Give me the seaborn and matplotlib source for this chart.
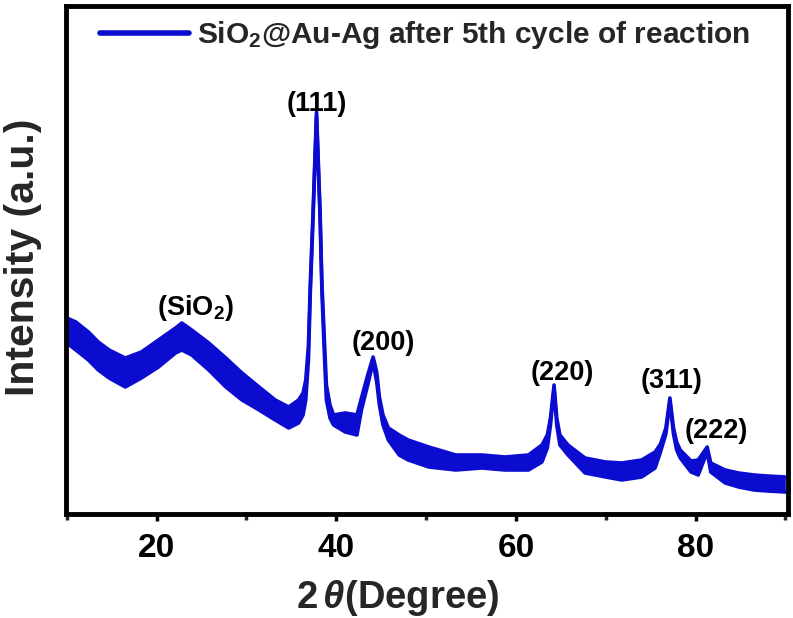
# XRD pattern of SiO2@Au-Ag after the 5th reaction cycle

import matplotlib
matplotlib.use("Agg")
import numpy as np
import matplotlib.pyplot as plt
import seaborn as sns

# --- Data (2theta in degrees, intensity in a.u.) ---
# the trace is a noisy band, so keep its upper and lower edge
two_theta = [10.0, 11.0, 12.4, 13.5, 14.7, 16.5, 18.3, 20.2, 22.1, 22.8, 23.9, 25.8,
             27.7, 29.5, 31.4, 33.2, 34.7, 35.8, 36.3, 36.6, 36.9, 37.1, 37.4, 37.8,
             38.2, 38.4, 38.7, 38.9, 39.3, 39.7, 41.0, 42.3, 42.8, 43.5, 44.1, 44.5,
             44.8, 45.2, 45.8, 47.0, 48.0, 50.3, 53.3, 56.2, 58.8, 61.4, 62.9, 63.5,
             63.85, 64.25, 64.55, 64.9, 65.8, 67.7, 70.0, 71.8, 74.0, 75.5, 76.1, 76.7,
             77.15, 77.55, 77.9, 78.3, 79.5, 80.3, 81.3, 81.7, 83.3, 84.8, 86.5, 88.0,
             90.0]
band_upper = [192, 188, 178, 168, 160, 152, 158, 170, 182, 187, 180, 167,
              152, 137, 123, 110, 103, 110, 117, 130, 165, 225, 295, 398,
              297, 227, 165, 125, 105, 95, 97, 95, 112, 135, 153, 138,
              113, 95, 82, 75, 70, 63, 55, 55, 53, 55, 65, 75,
              92, 125, 92, 75, 65, 52, 48, 47, 50, 58, 66, 82,
              112, 82, 68, 60, 49, 50, 63, 47, 40, 37, 35, 34,
              33]
band_lower = [167, 160, 150, 140, 132, 123, 132, 143, 157, 160, 155, 140,
              123, 110, 100, 90, 82, 87, 95, 110, 150, 215, 288, 394,
              290, 218, 150, 110, 92, 85, 78, 75, 100, 125, 148, 128,
              105, 85, 70, 55, 50, 43, 40, 42, 40, 40, 48, 62,
              85, 121, 85, 65, 55, 37, 33, 30, 33, 42, 58, 76,
              108, 76, 60, 52, 38, 35, 58, 38, 27, 23, 20, 19,
              18]

peak_labels = ["(SiO$_2$)", "(111)", "(200)", "(220)", "(311)", "(222)"]
peak_label_x = [24.3, 37.85, 45.2, 65.2, 77.3, 82.3]
peak_label_y = [195, 399, 160, 130, 122, 72]

legend_text = "SiO$_2$@Au-Ag after 5th cycle of reaction"
blue = "#0c0cd0"

# --- Style ---
sns.set_theme(style="white")
plt.rcParams["font.family"] = ["Liberation Sans", "DejaVu Sans"]
plt.rcParams["font.weight"] = "bold"
plt.rcParams["mathtext.fontset"] = "custom"
plt.rcParams["mathtext.rm"] = "Liberation Sans:bold"
plt.rcParams["mathtext.bf"] = "Liberation Sans:bold"
plt.rcParams["mathtext.it"] = "Liberation Sans:italic:bold"

fig = plt.figure(figsize=(7.93, 6.18), dpi=100)
ax = fig.add_axes([0.0832, 0.1683, 0.9105, 0.8228])

ax.fill_between(two_theta, band_lower, band_upper, color=blue, linewidth=0)
sns.lineplot(x=two_theta, y=band_upper, ax=ax, color=blue, linewidth=2.6,
             label=legend_text, sort=False)
sns.lineplot(x=two_theta, y=band_lower, ax=ax, color=blue, linewidth=2.6,
             sort=False)

for txt, px, py in zip(peak_labels, peak_label_x, peak_label_y):
    ax.text(px, py, txt, ha="center", va="baseline", fontsize=19.5,
            fontweight="bold", color="black")

ax.set_xlim(9.9, 90.3)
ax.set_ylim(-4, 504.5)
ax.set_xticks([20, 40, 60, 80])
ax.set_xticks([10, 30, 50, 70, 90], minor=True)
ax.set_yticks([])
ax.tick_params(axis="x", which="major", direction="out", length=5, width=2.5,
               labelsize=24, pad=9, colors="black", bottom=True)
ax.tick_params(axis="x", which="minor", direction="out", length=4, width=2.5,
               bottom=True)
for lbl in ax.get_xticklabels():
    lbl.set_fontweight("bold")

for side in ["left", "right", "top", "bottom"]:
    ax.spines[side].set_linewidth(3.5)
    ax.spines[side].set_color("black")

ax.set_xlabel("")
ax.set_ylabel("")
fig.text(397.5 / 793, 10 / 618, r"2$\,\theta$(Degree)", ha="center", va="baseline",
         fontsize=27.5, fontweight="bold")
fig.text(23 / 793, 1 - 257 / 618, "Intensity (a.u.)", rotation=90, ha="center",
         va="center", fontsize=29.5, fontweight="bold")

leg = ax.legend(loc="center left", bbox_to_anchor=(0.047, 0.942), frameon=False,
                fontsize=21.5, handlelength=3.0, handletextpad=0.25, borderpad=0,
                borderaxespad=0)
for line in leg.get_lines():
    line.set_linewidth(4)
for t in leg.get_texts():
    t.set_fontweight("bold")

fig.savefig("out.png", dpi=100)
